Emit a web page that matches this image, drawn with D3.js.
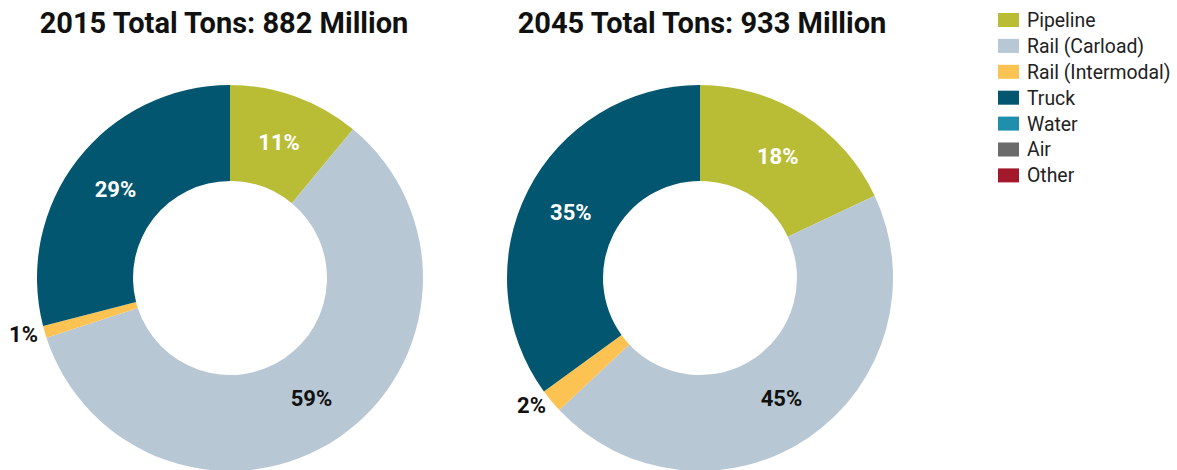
<!DOCTYPE html>
<html>
<head>
<meta charset="utf-8">
<script src="https://cdn.jsdelivr.net/npm/d3@7"></script>
<style>
body{margin:0;background:#fff;font-family:Roboto,"Noto Sans",sans-serif;}
</style>
</head>
<body>
<div id="chart"></div>
<script>
// data
var modes = ["Pipeline","Rail (Carload)","Rail (Intermodal)","Truck","Water","Air","Other"];
var modeColors = ["#b9bd35","#b8c7d4","#fdc352","#02566f","#1f8fad","#6b6b6b","#a3192b"];
var years = ["2015","2045"];
var totals = ["882","933"];
var shares2015 = [11,59,1,29,0,0,0];
var shares2045 = [18,45,2,35,0,0,0];

var W = 1177, H = 470;
var svg = d3.select("#chart").append("svg").attr("width",W).attr("height",H);

var color = d3.scaleOrdinal().domain(modes).range(modeColors);
var R = 193, r0 = 97;
var centers = [230,700];
var titleX = [224,702];
var cy = 278;

var pie = d3.pie().sort(null).value(function(d){return d.v;});
var arc = d3.arc().innerRadius(r0).outerRadius(R);
var labelArc = d3.arc().innerRadius(145).outerRadius(145);
var outArc = d3.arc().innerRadius(200).outerRadius(200);

[shares2015,shares2045].forEach(function(vals,k){
	var rows = modes.map(function(m,i){return {m:m,v:vals[i]};});
	var g = svg.append("g").attr("transform","translate("+centers[k]+","+cy+")");
	var arcs = pie(rows);
	g.selectAll("path").data(arcs).enter().append("path")
		.attr("d",arc)
		.attr("fill",function(d){return color(d.data.m);});
	// labels
	arcs.filter(function(d){return d.data.v>0;}).forEach(function(d){
		var small = d.data.v<5;
		var p = small ? outArc.centroid(d) : labelArc.centroid(d);
		var dark = d.data.m==="Pipeline"||d.data.m==="Truck";
		g.append("text")
			.attr("x",p[0]).attr("y",p[1])
			.attr("dy","0.36em")
			.attr("text-anchor",small?"end":"middle")
			.attr("font-size",22).attr("font-weight","bold")
			.attr("fill",(!small&&dark)?"#fff":"#111")
			.text(d.data.v+"%");
	});
	svg.append("text")
		.attr("x",titleX[k]).attr("y",33)
		.attr("text-anchor","middle")
		.attr("font-size",29).attr("font-weight","bold")
		.attr("fill","#111")
		.text(years[k]+" Total Tons: "+totals[k]+" Million");
});

// legend
var leg = svg.append("g").attr("transform","translate(998,20)");
modes.forEach(function(m,i){
	var row = leg.append("g").attr("transform","translate(0,"+(i*25.9)+")");
	row.append("rect").attr("x",0).attr("y",-7).attr("width",21).attr("height",14).attr("fill",color(m));
	row.append("text").attr("x",29).attr("y",0).attr("dy","0.36em")
		.attr("font-size",19.4).attr("fill","#222").text(m);
});
</script>
</body>
</html>
